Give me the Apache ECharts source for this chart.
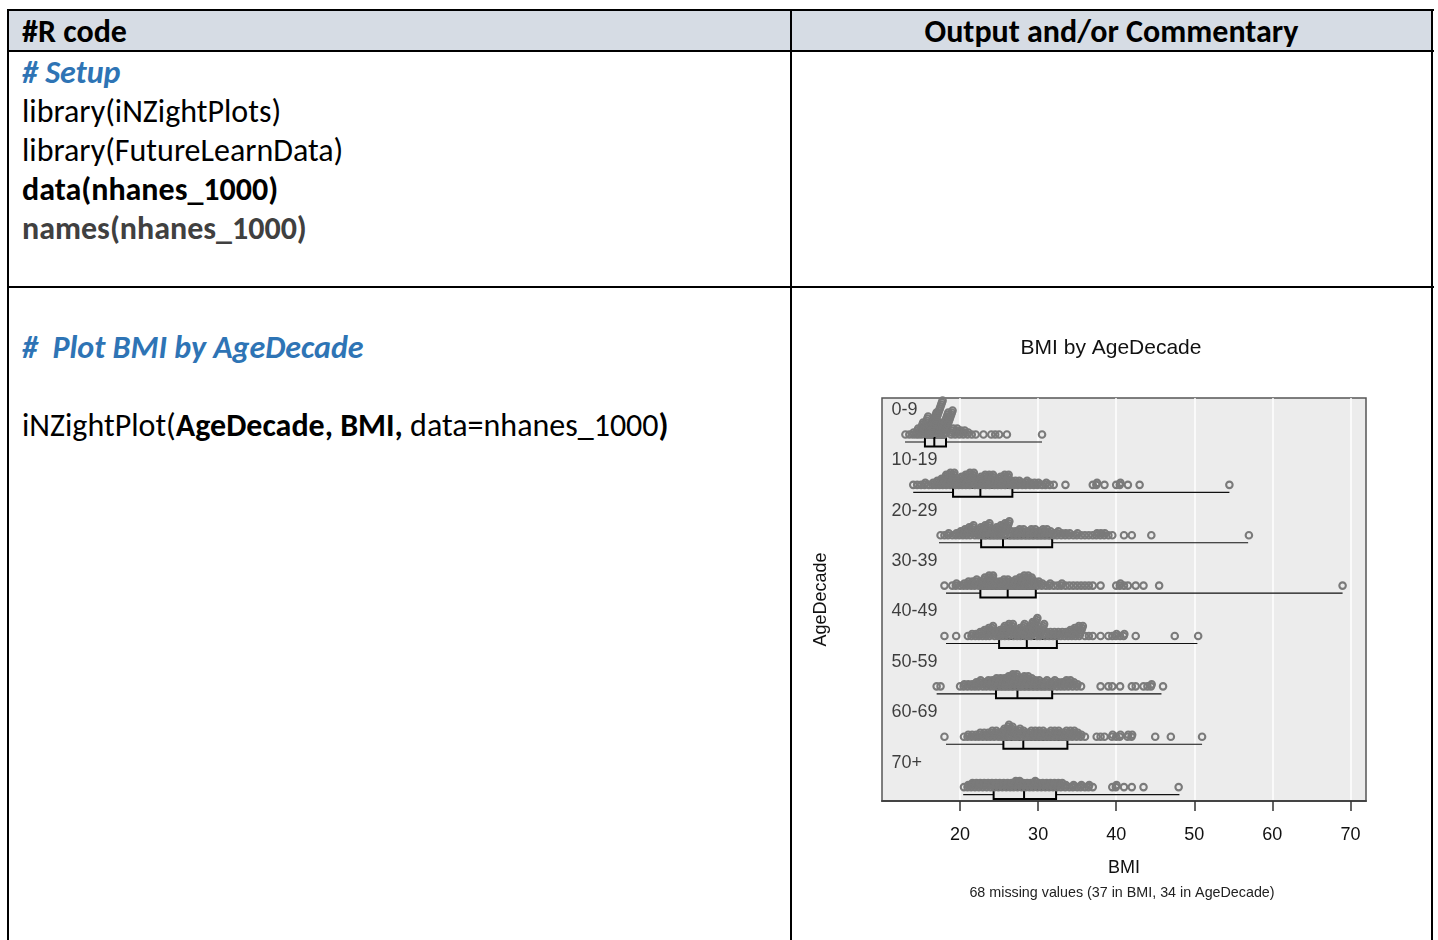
<!DOCTYPE html>
<html>
<head>
<meta charset="utf-8">
<script src="https://cdn.jsdelivr.net/npm/echarts@6/dist/echarts.min.js"></script>
<style>
  body { margin: 0; width: 1438px; height: 940px; overflow: hidden; background: #fff; position: relative;
         font-family: Carlito, Calibri, Lato, sans-serif; }
  .hl, .vl { position: absolute; background: #000; }
  .hl { height: 2px; }
  .vl { width: 2px; }
  .t { position: absolute; white-space: pre; font-size: 32px; line-height: 39px; color: #000; }
  .b { font-weight: bold; }
  .cmt { font-weight: bold; font-style: italic; color: #2E74B5; }
  #chart { position: absolute; left: 0; top: 0; width: 1438px; height: 940px; z-index: 2; }
</style>
</head>
<body>
<div style="position:absolute;left:8px;top:10px;width:1424px;height:41px;background:#D6DCE4"></div>
<div class="hl" style="left:7px;top:9px;width:1427px"></div>
<div class="hl" style="left:7px;top:50px;width:1427px"></div>
<div class="hl" style="left:7px;top:286px;width:1427px"></div>
<div class="vl" style="left:7px;top:9px;height:931px"></div>
<div class="vl" style="left:790px;top:9px;height:931px"></div>
<div class="vl" style="left:1431px;top:9px;height:931px"></div>

<div class="t b" style="left:22px;top:12px">#R code</div>
<div class="t b" style="left:791px;top:12px;width:641px;text-align:center">Output and/or Commentary</div>

<div class="t cmt" style="left:22px;top:53px"># Setup</div>
<div class="t" style="left:22px;top:92px">library(iNZightPlots)</div>
<div class="t" style="left:22px;top:131px">library(FutureLearnData)</div>
<div class="t b" style="left:22px;top:170px">data(nhanes_1000)</div>
<div class="t b" style="left:22px;top:209px;color:#404040">names(nhanes_1000)</div>

<div class="t cmt" style="left:22px;top:328px">#  Plot BMI by AgeDecade</div>
<div class="t" style="left:22px;top:406px">iNZightPlot(<b>AgeDecade, BMI,</b> data=nhanes_1000<b>)</b></div>

<div id="chart"></div>
<script>
// groups and five-number summaries (BMI)
var ageGroups = ['0-9', '10-19', '20-29', '30-39', '40-49', '50-59', '60-69', '70+'];
var bmiMin    = [12.95, 14.0, 17.3, 18.2, 18.2, 17.0, 18.2, 20.4];
var bmiQ1     = [15.5, 19.1, 22.7, 22.6, 25.0, 24.6, 25.55, 24.3];
var bmiMedian = [16.7, 22.6, 25.5, 26.1, 28.55, 27.35, 28.1, 28.2];
var bmiQ3     = [18.2, 26.7, 31.8, 29.7, 32.4, 31.8, 33.75, 32.3];
var bmiMax    = [30.5, 54.5, 56.9, 69.0, 50.4, 45.8, 51.0, 48.1];
var tickValues = [20, 30, 40, 50, 60, 70];

// dot stacks: [BMI, number of dots]
var dots0to9 = [[13,1],[13.5,1],[14,2],[14.5,4],[15,7],[15.5,10],[16,5],[16.5,12],[17,18],[17.5,7],[18,12],[18.5,13],[19,4],[19.5,4],[20,3],[20.5,3],[21,2],[21.5,1],[22,1],[23,1],[24,1],[24.5,1],[25,1],[26,1],[30.5,1]];
var dots10to19 = [[14,1],[14.5,1],[15,1],[15.5,2],[16,1],[16.5,2],[17,3],[17.5,4],[18,6],[18.5,7],[19,7],[19.5,3],[20,5],[20.5,6],[21,7],[21.5,7],[22,3],[22.5,5],[23,6],[23.5,6],[24,6],[24.5,3],[25,5],[25.5,6],[26,6],[26.5,3],[27,3],[27.5,3],[28,2],[28.5,3],[29,2],[29.5,2],[30,2],[30.5,1],[31,2],[31.5,1],[32,1],[33.5,1],[37,1],[37.5,2],[38.5,1],[40,1],[40.5,2],[41.5,1],[43,1],[54.5,1]];
var dots20to29 = [[17.5,1],[18,1],[18.5,2],[19,1],[19.5,2],[20,3],[20.5,4],[21,5],[21.5,6],[22,3],[22.5,5],[23,6],[23.5,7],[24,4],[24.5,5],[25,6],[25.5,7],[26,8],[26.5,3],[27,3],[27.5,4],[28,4],[28.5,3],[29,4],[29.5,4],[30,3],[30.5,4],[31,4],[31.5,3],[32,2],[32.5,3],[33,2],[33.5,2],[34,2],[34.5,1],[35,2],[35.5,1],[36,1],[36.5,1],[37,1],[37.5,2],[38,2],[38.5,2],[39,1],[39.5,1],[41,1],[42,1],[44.5,1],[57,1]];
var dots30to39 = [[18,1],[19,1],[19.5,2],[20,1],[20.5,2],[21,3],[21.5,3],[22,4],[22.5,3],[23,5],[23.5,6],[24,6],[24.5,3],[25,3],[25.5,4],[26,4],[26.5,3],[27,4],[27.5,5],[28,6],[28.5,6],[29,5],[29.5,3],[30,3],[30.5,2],[31,1],[31.5,2],[32,1],[32.5,1],[33,2],[33.5,1],[34,1],[34.5,1],[35,1],[35.5,1],[36,1],[36.5,1],[37,1],[38,1],[40,1],[40.5,2],[41,1],[41.5,1],[42.5,1],[43.5,1],[45.5,1],[69,1]];
var dots40to49 = [[18,1],[19.5,1],[21,1],[21.5,2],[22,2],[22.5,3],[23,4],[23.5,5],[24,6],[24.5,3],[25,4],[25.5,6],[26,7],[26.5,7],[27,4],[27.5,5],[28,7],[28.5,5],[29,8],[29.5,10],[30,4],[30.5,7],[31,3],[31.5,3],[32,3],[32.5,3],[33,3],[33.5,3],[34,4],[34.5,5],[35,6],[35.5,6],[36,1],[36.5,1],[37,1],[38,1],[39,1],[39.5,1],[40,2],[40.5,1],[41,2],[42.5,1],[47.5,1],[50.5,1]];
var dots50to59 = [[17,1],[17.5,1],[20,1],[20.5,2],[21,2],[21.5,2],[22,3],[22.5,4],[23,3],[23.5,4],[24,4],[24.5,5],[25,5],[25.5,5],[26,6],[26.5,7],[27,7],[27.5,5],[28,6],[28.5,6],[29,5],[29.5,4],[30,4],[30.5,3],[31,4],[31.5,3],[32,4],[32.5,3],[33,3],[33.5,4],[34,4],[34.5,3],[35,2],[35.5,1],[38,1],[39,1],[39.5,1],[40.5,1],[42,1],[42.5,1],[43.5,1],[44,1],[44.5,2],[46,1]];
var dots60to69 = [[18,1],[20.5,1],[21,2],[21.5,2],[22,2],[22.5,3],[23,3],[23.5,3],[24,4],[24.5,4],[25,3],[25.5,5],[26,7],[26.5,6],[27,4],[27.5,5],[28,4],[28.5,3],[29,4],[29.5,4],[30,4],[30.5,4],[31,3],[31.5,4],[32,4],[32.5,4],[33,3],[33.5,4],[34,4],[34.5,4],[35,3],[35.5,2],[36,1],[37.5,1],[38,1],[38.5,1],[39.5,2],[40,1],[40.5,2],[41.5,2],[42,2],[45,1],[47,1],[51,1]];
var dots70plus = [[20.5,1],[21,2],[21.5,3],[22,3],[22.5,3],[23,3],[23.5,3],[24,3],[24.5,3],[25,3],[25.5,3],[26,3],[26.5,3],[27,4],[27.5,4],[28,3],[28.5,3],[29,3],[29.5,4],[30,3],[30.5,3],[31,3],[31.5,3],[32,3],[32.5,3],[33,3],[33.5,2],[34,1],[34.5,2],[35,1],[35.5,2],[36,1],[36.5,2],[37,1],[39.5,1],[40,2],[41,1],[42,1],[43.5,1],[48,1]];
var dotGroups = [dots0to9, dots10to19, dots20to29, dots30to39, dots40to49, dots50to59, dots60to69, dots70plus];

// layout inside each group band (band = 1 unit on the y axis)
var bandPx = 403 / 8;
var labelOff = 0.238, dotOff = 0.724, boxOff = 0.873, boxH = 9 / bandPx, stepU = 2 / bandPx;
var slantPx = 0.7; // stacked dots lean right, like the iNZight dot plot

var dotData = [];
dotGroups.forEach(function (grp, g) {
  grp.forEach(function (d) {
    var n = d[1];
    for (var k = 0; k < n; k++) {
      dotData.push({ value: [d[0], g + dotOff - k * stepU], symbolOffset: [(k - (n - 1) / 2) * slantPx, 0] });
    }
  });
});

var boxData = ageGroups.map(function (n, i) {
  return [i, bmiMin[i], bmiQ1[i], bmiMedian[i], bmiQ3[i], bmiMax[i]];
});

var font = 'Liberation Sans';
var option = {
  animation: false,
  textStyle: { fontFamily: font },
  grid: { left: 882, top: 398, width: 484, height: 403, show: true,
          backgroundColor: '#ececec', borderColor: '#555', borderWidth: 1.5 },
  xAxis: {
    type: 'value', min: 10, max: 72, interval: 10,
    name: 'BMI', nameLocation: 'middle', nameGap: 58,
    nameTextStyle: { fontSize: 18, color: '#111', fontFamily: font },
    axisLine: { show: true, onZero: false, lineStyle: { color: '#444', width: 2 } },
    axisTick: { show: true, length: 10, customValues: tickValues, lineStyle: { color: '#333', width: 1.5 } },
    axisLabel: { customValues: tickValues, margin: 25, fontSize: 18, color: '#111' },
    splitLine: { show: true, lineStyle: { color: '#fff', width: 1.5 } }
  },
  yAxis: {
    type: 'value', min: 0, max: 8, inverse: true,
    name: 'AgeDecade', nameLocation: 'middle', nameGap: 52, nameRotate: 90,
    nameTextStyle: { fontSize: 18, color: '#111', fontFamily: font },
    axisLine: { show: false, onZero: false }, axisTick: { show: false },
    axisLabel: { show: false }, splitLine: { show: false }
  },
  graphic: [
    { type: 'text', x: 1111, y: 348, style: { text: 'BMI by AgeDecade', align: 'center', verticalAlign: 'middle',
      textAlign: 'center', textVerticalAlign: 'middle', fontSize: 21, fontFamily: font, fill: '#111' } },
    { type: 'text', x: 1122, y: 893, style: { text: '68 missing values (37 in BMI, 34 in AgeDecade)', align: 'center',
      verticalAlign: 'middle', textAlign: 'center', textVerticalAlign: 'middle', fontSize: 14.3, fontFamily: font, fill: '#222' } }
  ],
  series: [
    {
      type: 'custom', data: boxData, encode: { x: [1, 2, 3, 4, 5], y: 0 }, z: 2,
      renderItem: function (params, api) {
        var g = api.value(0);
        var yc = api.coord([20, g + boxOff])[1];
        var h = api.size([0, boxH])[1];
        var px = function (dim) { return api.coord([api.value(dim), g])[0]; };
        var pMin = px(1), pQ1 = px(2), pMed = px(3), pQ3 = px(4), pMax = px(5);
        return { type: 'group', children: [
          { type: 'line', shape: { x1: pMin, y1: yc, x2: pMax, y2: yc }, style: { stroke: '#111', lineWidth: 1.2 } },
          { type: 'rect', shape: { x: pQ1, y: yc - h / 2, width: pQ3 - pQ1, height: h },
            style: { fill: '#e8e8e8', stroke: '#000', lineWidth: 2 } },
          { type: 'line', shape: { x1: pMed, y1: yc - h / 2, x2: pMed, y2: yc + h / 2 }, style: { stroke: '#000', lineWidth: 2 } }
        ] };
      }
    },
    {
      type: 'scatter', data: dotData, z: 3, progressive: 0, clip: true,
      symbol: 'circle', symbolSize: 6.5,
      itemStyle: { color: 'rgba(0,0,0,0)', borderColor: '#7a7a7a', borderWidth: 2.1, opacity: 1 },
      silent: true
    },
    {
      type: 'scatter', z: 4, symbolSize: 1, silent: true,
      itemStyle: { color: 'rgba(0,0,0,0)' },
      data: ageGroups.map(function (n, i) { return { name: n, value: [10, i + labelOff] }; }),
      label: { show: true, position: 'right', distance: 9, formatter: '{b}', fontSize: 18, color: '#111' }
    }
  ]
};

var chart = echarts.init(document.getElementById('chart'));
chart.setOption(option);
</script>
</body>
</html>
